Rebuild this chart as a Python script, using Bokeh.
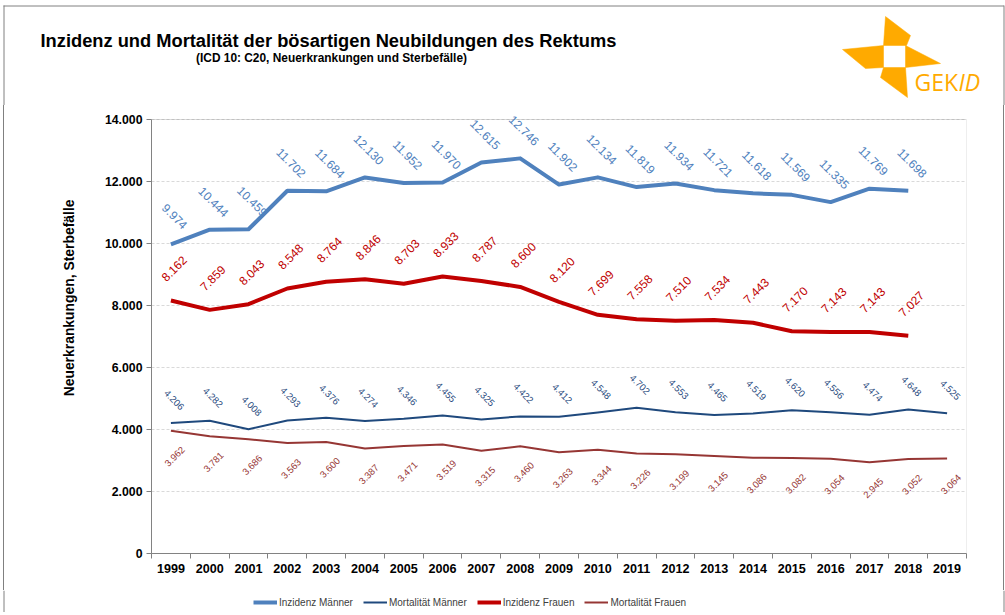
import math
from bokeh.plotting import figure
from bokeh.layouts import column, row
from bokeh.models import (ColumnDataSource, Range1d, FixedTicker, LabelSet, Title,
                          Legend, LegendItem, BoxAnnotation, Div)
from bokeh.core.properties import value
from bokeh.embed import file_html
from bokeh.resources import INLINE

# ---------------- data ----------------
years = list(range(1999, 2020))
inzidenz_maenner = [9974, 10444, 10459, 11702, 11684, 12130, 11952, 11970, 12615, 12746,
                    11902, 12134, 11819, 11934, 11721, 11618, 11569, 11335, 11769, 11698]
mortalitaet_maenner = [4206, 4282, 4008, 4293, 4376, 4274, 4346, 4455, 4325, 4422,
                       4412, 4548, 4702, 4553, 4465, 4519, 4620, 4556, 4474, 4648, 4525]
inzidenz_frauen = [8162, 7859, 8043, 8548, 8764, 8846, 8703, 8933, 8787, 8600,
                   8120, 7699, 7558, 7510, 7534, 7443, 7170, 7143, 7143, 7027]
mortalitaet_frauen = [3962, 3781, 3686, 3563, 3600, 3387, 3471, 3519, 3315, 3460,
                      3263, 3344, 3226, 3199, 3145, 3086, 3082, 3054, 2945, 3052, 3064]
series_names = ["Inzidenz Männer", "Mortalität Männer", "Inzidenz Frauen", "Mortalität Frauen"]
y_ticks = [0, 2000, 4000, 6000, 8000, 10000, 12000, 14000]
y_tick_labels = ["0", "2.000", "4.000", "6.000", "8.000", "10.000", "12.000", "14.000"]
title_text = "Inzidenz und Mortalität der bösartigen Neubildungen des Rektums"
subtitle_text = "(ICD 10: C20, Neuerkrankungen und Sterbefälle)"
y_label_text = "Neuerkrankungen, Sterbefälle"
logo_text = ["GEK", "ID"]


def fmt(v):
    return f"{v:,}".replace(",", ".")


W, H = 1005, 612
HEAD = 105          # header strip height
LEG_TOP = 590       # page y where legend strip starts
FONT = "Liberation Sans"
orange = "#FFAA00"
border_col = "#808080"
c_im, c_mm, c_if, c_mf = "#4F81BD", "#1F497D", "#C00000", "#963634"
styles = [(c_im, 4), (c_mm, 2), (c_if, 4), (c_mf, 2)]
series = [inzidenz_maenner, mortalitaet_maenner, inzidenz_frauen, mortalitaet_frauen]


def blank_fig(h):
    f = figure(width=W, height=h, output_backend="svg", toolbar_location=None,
               x_range=Range1d(0, W), y_range=Range1d(h, 0),
               min_border=0, min_border_left=0, min_border_right=0,
               min_border_top=0, min_border_bottom=0)
    f.frame_align = False
    f.axis.visible = False
    f.grid.visible = False
    f.outline_line_color = None
    f.background_fill_color = "white"
    f.border_fill_color = "white"
    return f


# ---------------- header (title + logo) ----------------
hd = blank_fig(HEAD)
hd.multi_line([[3, 1003.5], [3.5, 3.5], [1003.5, 1003.5]], [[5.5, 5.5], [5, HEAD], [5, HEAD]],
              line_color=border_col, line_width=1)
hd.text(x=[40], y=[40], text=[title_text], text_font=value(FONT), text_font_style="bold",
        text_font_size="18.3px", text_color="black", text_baseline="middle", text_align="left")
hd.text(x=[331], y=[57], text=[subtitle_text], text_font=value(FONT), text_font_style="bold",
        text_font_size="11.9px", text_color="black", text_baseline="middle", text_align="center")
logo_xs = [[885, 910, 906, 883], [842, 883, 883, 865], [905, 940, 905], [883, 905, 907, 880]]
logo_ys = [[16, 35, 45, 45], [49, 45, 67, 68], [45, 63, 67], [67, 67, 97, 77]]
hd.patches(logo_xs, logo_ys, fill_color=orange, line_color=orange, line_width=0.5)
hd.text(x=[914], y=[81], text=[logo_text[0]], text_font=value("Open Sans"),
        text_font_size="23px", text_color=orange, text_baseline="middle")
hd.text(x=[958], y=[81], text=[logo_text[1]], text_font=value("Open Sans"), text_font_style="italic",
        text_font_size="23px", text_color=orange, text_baseline="middle")

# ---------------- main chart ----------------
main_h = LEG_TOP - HEAD
PX0 = 4                                  # page x of main figure's left edge
PW = 999                                 # main figure width
frame_top_px = 119 - HEAD - 9            # headroom above 14.000 for labels
frame_bottom_px = 553 - HEAD
y_max = 14000 * (frame_bottom_px - frame_top_px) / (frame_bottom_px - (119 - HEAD))

p = figure(width=PW, height=main_h, output_backend="svg", toolbar_location=None,
           x_range=Range1d(1998.5, 2019.5), y_range=Range1d(0, y_max),
           min_border_left=151 - PX0, min_border_right=PX0 + PW - 966,
           min_border_top=frame_top_px, min_border_bottom=main_h - frame_bottom_px)
p.frame_align = False
p.background_fill_color = "white"
p.border_fill_color = "white"
p.outline_line_color = None

p.xaxis.ticker = FixedTicker(ticks=years, minor_ticks=[y - 0.5 for y in years] + [years[-1] + 0.5])
p.xaxis.major_label_overrides = {y: str(y) for y in years}
p.xaxis.major_tick_line_color = None
p.xaxis.major_tick_out = 0
p.xaxis.minor_tick_line_color = "#808080"
p.xaxis.minor_tick_out = 5
p.xaxis.minor_tick_in = 0
p.xaxis.axis_line_color = "#808080"
p.xaxis.major_label_text_font = FONT
p.xaxis.major_label_text_font_style = "bold"
p.xaxis.major_label_text_font_size = "12.6px"
p.xaxis.major_label_text_color = "black"
p.xaxis.major_label_standoff = 5

p.yaxis.ticker = FixedTicker(ticks=y_ticks, minor_ticks=[])
p.yaxis.bounds = (0, 14000)
p.yaxis.major_label_overrides = {t: l for t, l in zip(y_ticks, y_tick_labels)}
p.yaxis.major_tick_out = 5
p.yaxis.major_tick_in = 0
p.yaxis.major_tick_line_color = "#808080"
p.yaxis.axis_line_color = "#808080"
p.yaxis.major_label_text_font = FONT
p.yaxis.major_label_text_font_style = "bold"
p.yaxis.major_label_text_font_size = "12.3px"
p.yaxis.major_label_text_color = "black"
p.yaxis.major_label_standoff = 4

p.xgrid.grid_line_color = None
p.ygrid.ticker = FixedTicker(ticks=y_ticks)
p.ygrid.grid_line_color = "#d9d9d9"
p.ygrid.grid_line_dash = "3 2"

p.add_layout(BoxAnnotation(left=1998.5, right=2019.5, bottom=0, top=14000,
                           fill_alpha=0, line_color="#8c8c8c", line_width=1))

p.add_layout(Title(text=y_label_text, align="right", offset=89, standoff=50,
                   text_font=FONT, text_font_style="bold", text_font_size="13.9px",
                   text_color="black"), "left")

for vals, (col, lw) in zip(series, styles):
    p.line(years[:len(vals)], vals, line_color=col, line_width=lw, line_join="round")


def add_labels(vals, color, size, angle_deg, xoff, yoff):
    src = ColumnDataSource(dict(x=years[:len(vals)], y=vals, t=[fmt(v) for v in vals]))
    p.add_layout(LabelSet(x="x", y="y", text="t", source=src, angle=math.radians(angle_deg),
                          x_offset=xoff, y_offset=yoff, text_align="center", text_baseline="middle",
                          text_color=color, text_font_size=size, text_font=value(FONT)))


add_labels(inzidenz_maenner, c_im, "12px", -45, 4, 28)
add_labels(inzidenz_frauen, c_if, "12px", 45, 3, 32)
add_labels(mortalitaet_maenner, c_mm, "9.5px", -45, 3, 23)
add_labels(mortalitaet_frauen, c_mf, "9.5px", 45, 4, -26)

# ---------------- legend strip ----------------
LEG_H = H - LEG_TOP
lf = blank_fig(LEG_H)
lf.multi_line([[3.5, 3.5], [1003.5, 1003.5]], [[0, LEG_H], [0, LEG_H]],
              line_color=border_col, line_width=1)
# proxy renderers carrying each series' style (their data lies outside this strip's ranges)
leg_renderers = [lf.line(years[:len(vals)], vals, line_color=col, line_width=lw)
                 for vals, (col, lw) in zip(series, styles)]
legend = Legend(items=[LegendItem(label=n, renderers=[r]) for n, r in zip(series_names, leg_renderers)],
                location=(253, LEG_H - 12 - 6), orientation="horizontal",
                glyph_width=24, glyph_height=12, label_standoff=2, spacing=10,
                padding=0, margin=0, border_line_color=None, background_fill_alpha=0,
                label_text_font=FONT, label_text_font_size="10px", label_text_color="#404040",
                label_height=12)
lf.add_layout(legend)


def vbar_div(w, colour=None):
    st = {"background-color": colour} if colour else {}
    return Div(text="", width=w, height=main_h, styles=st, margin=0)


main_row = row(vbar_div(3), vbar_div(1, border_col), p, vbar_div(1, border_col), vbar_div(1),
               spacing=0)
layout = column(hd, main_row, lf, spacing=0)

open("out.html", "w").write(file_html(layout, INLINE))
